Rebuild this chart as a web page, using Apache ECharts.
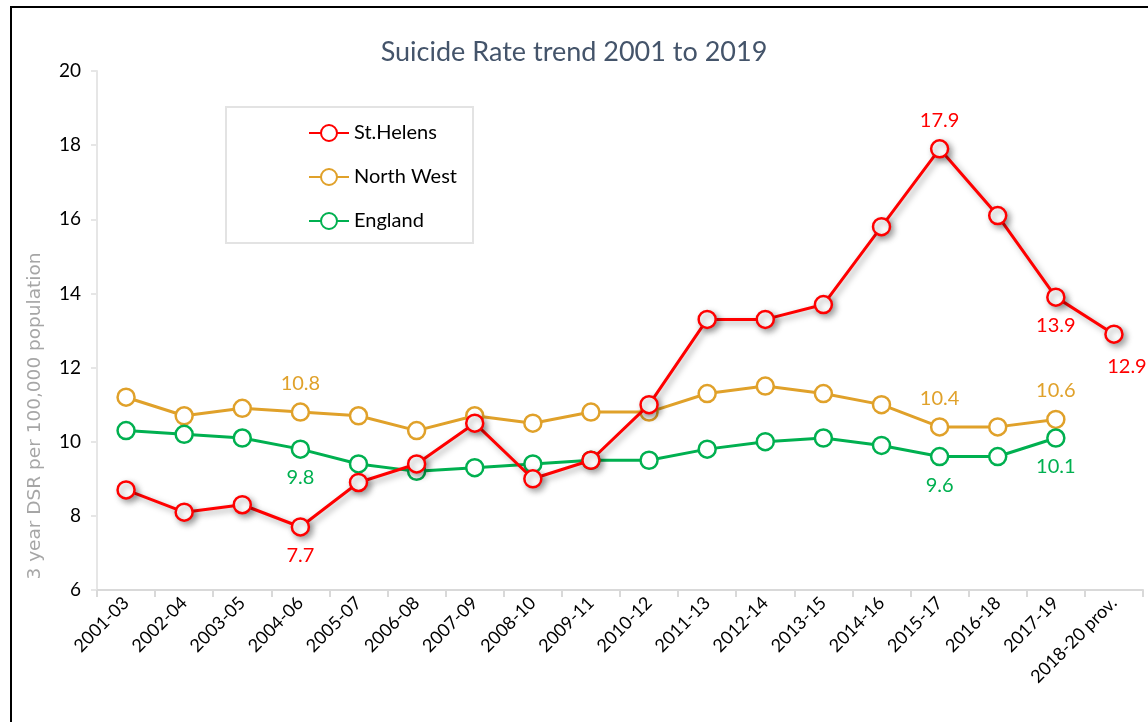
<!DOCTYPE html>
<html>
<head>
<meta charset="utf-8">
<script src="https://cdn.jsdelivr.net/npm/echarts@6/dist/echarts.min.js"></script>
<style>
html,body{margin:0;padding:0;background:#fff;}
#chart{width:1148px;height:722px;}
</style>
</head>
<body>
<div id="chart"></div>
<script>
const categories = ['2001-03','2002-04','2003-05','2004-06','2005-07','2006-08','2007-09','2008-10','2009-11','2010-12','2011-13','2012-14','2013-15','2014-16','2015-17','2016-18','2017-19','2018-20 prov.'];
const stHelens = [8.7, 8.1, 8.3, 7.7, 8.9, 9.4, 10.5, 9.0, 9.5, 11.0, 13.3, 13.3, 13.7, 15.8, 17.9, 16.1, 13.9, 12.9];
const northWest = [11.2, 10.7, 10.9, 10.8, 10.7, 10.3, 10.7, 10.5, 10.8, 10.8, 11.3, 11.5, 11.3, 11.0, 10.4, 10.4, 10.6];
const england = [10.3, 10.2, 10.1, 9.8, 9.4, 9.2, 9.3, 9.4, 9.5, 9.5, 9.8, 10.0, 10.1, 9.9, 9.6, 9.6, 10.1];
const yTicks = [6, 8, 10, 12, 14, 16, 18, 20];

// indices of points that carry a data label
const stHelensLabels = {3: 'bottom', 14: 'top', 16: 'bottom', 17: 'bottomRight'};
const northWestLabels = {3: 'top', 14: 'top', 16: 'top'};
const englandLabels = {3: 'bottom', 14: 'bottom', 16: 'bottom'};

const FONT = 'Lato, "Open Sans", sans-serif';

function withLabels(values, labelMap, color) {
  return values.map((v, i) => {
    const pos = labelMap[i];
    if (!pos) return v;
    let label = {show: true, position: pos === 'bottomRight' ? 'bottom' : pos, color: color,
                 fontSize: 20, fontFamily: FONT, distance: 9,
                 formatter: (p) => p.value.toFixed(1)};
    if (pos === 'bottomRight') label.offset = [13, 4];
    return {value: v, label: label};
  });
}

const RED = '#ff0000', GOLD = '#e0a12a', GREEN = '#00b050';

function makeSeries(name, data, labelMap, color, shadow) {
  const ls = {color: color, width: 3};
  const is = {color: '#ffffff', borderColor: color, borderWidth: 2.5};
  if (shadow) {
    Object.assign(ls, {shadowColor: 'rgba(0,0,0,0.35)', shadowBlur: 6, shadowOffsetX: 3, shadowOffsetY: 3});
    Object.assign(is, {shadowColor: 'rgba(0,0,0,0.35)', shadowBlur: 6, shadowOffsetX: 3, shadowOffsetY: 3});
  }
  return {
    name: name, type: 'line', data: withLabels(data, labelMap, color),
    symbol: 'circle', symbolSize: 17, showAllSymbol: true,
    lineStyle: ls, itemStyle: is, z: shadow ? 3 : 2,
    emphasis: {disabled: true}, animation: false
  };
}

const chart = echarts.init(document.getElementById('chart'), null, {renderer: 'canvas'});
chart.setOption({
  backgroundColor: '#ffffff',
  animation: false,
  title: {
    text: 'Suicide Rate trend 2001 to 2019', left: 'center', top: 34,
    textStyle: {color: '#44546a', fontSize: 27, fontWeight: 'normal', fontFamily: FONT}
  },
  legend: {
    orient: 'vertical', left: 303, top: 118, itemGap: 24,
    itemWidth: 40, itemHeight: 20,
    textStyle: {color: '#000', fontSize: 20, fontFamily: FONT, padding: [0, 0, 0, 0]},
    data: ['St.Helens', 'North West', 'England']
  },
  grid: {left: 97, right: 5, top: 71, bottom: 132, containLabel: false},
  xAxis: {
    type: 'category', data: categories, boundaryGap: true,
    axisLine: {lineStyle: {color: '#d9d9d9', width: 2}},
    axisTick: {show: true, length: 7, lineStyle: {color: '#d9d9d9', width: 2}},
    axisLabel: {rotate: 45, color: '#000', fontSize: 18, fontFamily: FONT, margin: 10, interval: 0},
    splitLine: {show: false}
  },
  yAxis: {
    type: 'value', min: 6, max: 20, interval: 2,
    axisLine: {show: true, lineStyle: {color: '#e6e6e6', width: 2}},
    axisTick: {show: true, length: 6, lineStyle: {color: '#e6e6e6', width: 2}},
    axisLabel: {color: '#000', fontSize: 19, fontFamily: FONT, margin: 16,
                formatter: (v) => yTicks.includes(v) ? String(v) : ''},
    splitLine: {show: false}
  },
  graphic: [
    {type: 'rect', shape: {x: 11, y: 7, width: 1150, height: 730}, style: {fill: 'none', stroke: '#000', lineWidth: 2}, silent: true, z: -1},
    {type: 'rect', shape: {x: 226, y: 107, width: 247, height: 136}, style: {fill: 'none', stroke: '#e3e3e3', lineWidth: 2}, silent: true, z: -1},
    {type: 'text', x: 35, y: 416, rotation: Math.PI / 2,
     style: {text: '3 year DSR per 100,000 population', fill: '#a6a6a6', fontSize: 18.5, fontFamily: '"DejaVu Sans", sans-serif',
             align: 'center', verticalAlign: 'middle'}, silent: true}
  ],
  series: [
    makeSeries('St.Helens', stHelens, stHelensLabels, RED, true),
    makeSeries('North West', northWest, northWestLabels, GOLD, false),
    makeSeries('England', england, englandLabels, GREEN, false)
  ]
});
</script>
</body>
</html>
